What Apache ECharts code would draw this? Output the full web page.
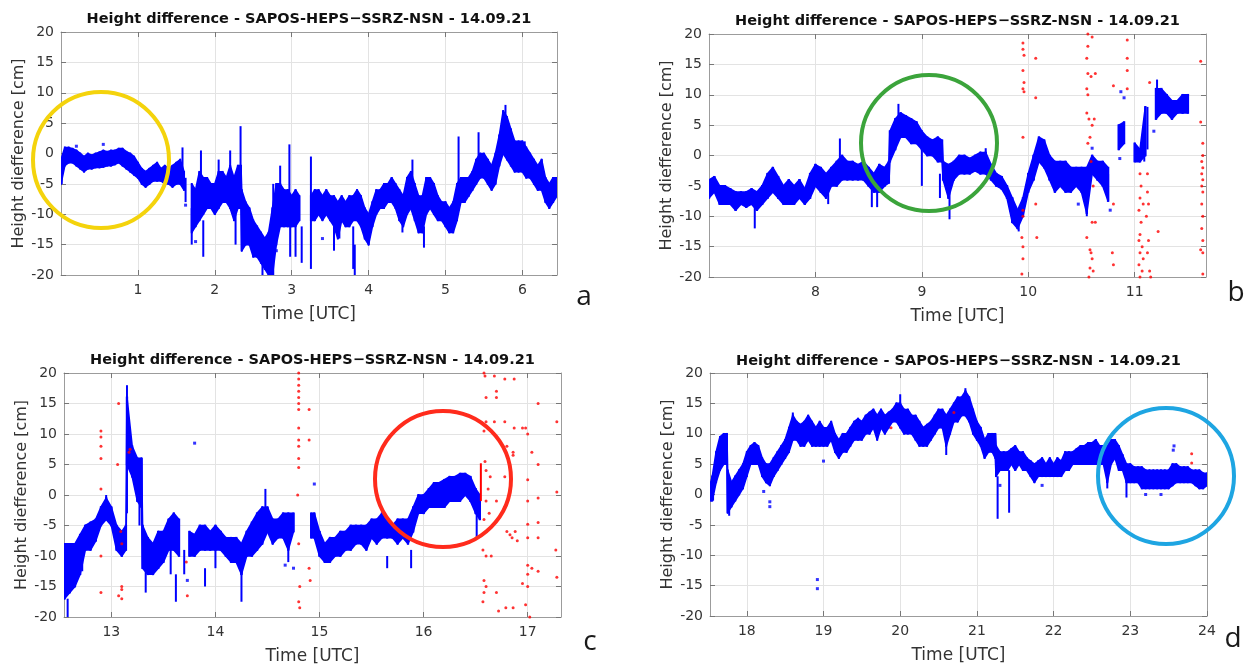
<!DOCTYPE html>
<html><head><meta charset="utf-8">
<script src="https://cdn.jsdelivr.net/npm/echarts@6/dist/echarts.min.js"></script>
<style>html,body{margin:0;padding:0;background:#fff}#c{width:1250px;height:668px}</style>
</head><body><div id="c"></div><script>
// ---------------- DATA ----------------
const TITLE = 'Height difference - SAPOS-HEPS\u2212SSRZ-NSN - 14.09.21';
const X_NAME = 'Time [UTC]';
const Y_NAME = 'Height diefference [cm]';
const panelLetters = ['a', 'b', 'c', 'd'];
const xRanges = [[0, 6.45], [7, 11.67], [12.545, 17.32], [17.52, 24]];
const xTicks = [[1, 2, 3, 4, 5, 6], [8, 9, 10, 11], [13, 14, 15, 16, 17], [18, 19, 20, 21, 22, 23, 24]];
const yTicks = [-20, -15, -10, -5, 0, 5, 10, 15, 20];
const BAND_STEP = 0.05; // hours between band samples

// band samples: [time, lowest value, highest value] of the dense blue cloud
const bandA = [[0.00,-5,-1],[0.05,-2,1],[0.10,-1.5,1],[0.15,-1.5,0.8],[0.20,-2,0.5],[0.25,-2.5,0],[0.30,-3,-0.5],[0.35,-2.5,0],[0.40,-2.5,-0.3],[0.45,-2.3,0],[0.50,-2.3,0.2],[0.55,-2.2,0.5],[0.60,-2,0.3],[0.65,-2,0.5],[0.70,-1.8,0.5],[0.75,-1.5,0.8],[0.80,-2,0.8],[0.85,-2.5,0.3],[0.90,-3,0],[0.95,-3.5,-0.5],[1.00,-4,-1.5],[1.05,-5,-2.5],[1.10,-5.5,-3],[1.15,-5,-2.5],[1.20,-4.5,-2],[1.25,-4.5,-1.5],[1.30,-4.5,-2.5],[1.35,-5,-2],[1.40,-5,-2.5],[1.45,-5.5,-2],[1.50,-5,-1.5],[1.55,-5,-1],[1.60,-6,-3],[1.70,-13,-5],[1.75,-12,-6],[1.80,-11,-3],[1.85,-10,-4],[1.90,-9,-4],[1.95,-9,-5],[2.00,-10,-5],[2.05,-9,-3],[2.10,-8,-3],[2.15,-8,-4],[2.20,-9,-2],[2.25,-11,-4],[2.30,-9,-2],[2.34,-9,-2],[2.35,-16,-6],[2.40,-15,-8],[2.45,-15,-9],[2.50,-17,-11],[2.55,-17,-12],[2.60,-18,-13],[2.65,-19,-14],[2.70,-20,-13],[2.75,-20,-9],[2.80,-15,-5],[2.85,-12,-5],[2.90,-12,-6],[2.95,-12,-6],[3.00,-12,-7],[3.05,-12,-6],[3.10,-11,-7],[3.25,-11,-7],[3.30,-11,-6],[3.35,-10,-6],[3.40,-11,-7],[3.45,-10,-6],[3.50,-11,-7],[3.55,-12,-7],[3.60,-14,-8],[3.65,-11,-7],[3.70,-12,-8],[3.75,-12,-7],[3.80,-11,-7],[3.85,-11,-6],[3.90,-12,-7],[3.95,-14,-9],[4.00,-15,-10],[4.05,-12,-8],[4.10,-10,-6],[4.15,-9,-6],[4.20,-9,-5],[4.25,-8,-5],[4.30,-8,-4],[4.35,-9,-5],[4.40,-11,-6],[4.45,-12,-7],[4.50,-10,-4],[4.55,-9,-3],[4.60,-11,-5],[4.65,-13,-7],[4.70,-13,-7],[4.75,-10,-4],[4.80,-9,-4],[4.85,-10,-5],[4.90,-11,-7],[4.95,-11,-8],[5.00,-12,-8],[5.05,-13,-9],[5.10,-13,-8],[5.15,-11,-5],[5.20,-8,-4],[5.25,-8,-4],[5.30,-7,-4],[5.35,-6,-3],[5.40,-5,-1],[5.45,-4,0],[5.50,-4,0],[5.55,-5,-1],[5.60,-6,-2],[5.65,-5,0],[5.70,-2,3],[5.75,0,7],[5.80,-1,6],[5.85,-2,4],[5.90,-3,2],[5.95,-3,2],[6.00,-3,2],[6.05,-4,1],[6.10,-4,0],[6.15,-5,-1],[6.20,-6,-2],[6.25,-6,-1],[6.30,-8,-4],[6.35,-9,-5],[6.40,-8,-4],[6.45,-7,-4]];
const bandB = [[7.00,-7,-4],[7.05,-6,-3.5],[7.10,-8,-5],[7.15,-8,-5],[7.20,-8,-5.5],[7.25,-9,-6],[7.30,-8,-6],[7.35,-8.5,-6],[7.40,-8,-5.5],[7.45,-9,-6],[7.50,-8,-5],[7.55,-7,-3],[7.60,-6,-2],[7.65,-7,-3.5],[7.70,-8,-5],[7.75,-8,-4],[7.80,-8,-5],[7.85,-7,-4],[7.90,-8,-5.5],[7.95,-7,-3],[8.00,-5,-1.5],[8.05,-6,-2],[8.10,-7,-3],[8.15,-5,-2],[8.20,-5,-1],[8.25,-4,0],[8.30,-4,-1],[8.35,-4,-1],[8.40,-4,-1.5],[8.45,-4,-1],[8.50,-5,-2],[8.55,-6,-3],[8.60,-6,-1.5],[8.65,-5,-2],[8.69,-4.5,-1],[8.70,-1,4],[8.75,1,6],[8.80,3,7],[8.85,3,6.5],[8.90,2,6],[8.95,2,5.5],[9.00,1,4],[9.05,0,3],[9.10,0,2.5],[9.15,-1,3],[9.19,-1,2.5],[9.20,-4,-1],[9.25,-7,-1.5],[9.30,-4,-1],[9.35,-3,0],[9.40,-3,0],[9.45,-3,-0.5],[9.50,-2.5,0],[9.55,-3,0.5],[9.60,-3,0.5],[9.65,-4,-1.5],[9.70,-5,-3],[9.75,-5.5,-3.5],[9.80,-7,-5],[9.85,-11,-7],[9.90,-12,-9],[9.95,-10,-7],[10.00,-6,-3],[10.05,-4,0],[10.10,-1,3],[10.15,-2,2.5],[10.20,-4,0],[10.25,-6,-1],[10.30,-5,-1],[10.35,-6,-1],[10.40,-6,-2],[10.45,-5,-2],[10.50,-6,-2],[10.55,-9.5,-2],[10.60,-3,0],[10.65,-4,-1],[10.70,-5,-1],[10.75,-7.5,-2],[10.85,1,5],[10.90,2,5.5],[11.00,-1,2],[11.05,-1,1],[11.10,0,8],[11.20,6,11],[11.25,7,11],[11.30,7,10],[11.35,6,9],[11.40,7,9],[11.45,7,10],[11.50,7,10]];
const bandC = [[12.55,-17,-8],[12.60,-16,-8],[12.65,-15,-8],[12.70,-13,-6.5],[12.75,-9,-5],[12.80,-9,-4.5],[12.85,-7.5,-4],[12.90,-5,-2],[12.95,-4,-0.5],[13.00,-5,-2],[13.05,-9,-5],[13.10,-10,-6],[13.14,-9,-5],[13.15,5,16],[13.20,3,8],[13.25,-1,6],[13.29,-2,6],[13.30,-12,-5],[13.35,-13,-7],[13.40,-13,-8],[13.45,-12,-6],[13.50,-11,-6],[13.55,-9,-4],[13.60,-9,-3],[13.65,-10,-4],[13.75,-10,-6],[13.80,-10,-6.5],[13.85,-9,-5],[13.90,-9,-5],[13.95,-9,-6],[14.00,-9,-5],[14.05,-9,-6],[14.10,-10,-7],[14.15,-11,-7],[14.20,-11,-7],[14.25,-13,-8],[14.30,-10,-6],[14.35,-10,-4.5],[14.40,-9,-3],[14.45,-8,-2],[14.50,-6,-2],[14.55,-8,-4],[14.60,-7,-4],[14.65,-7,-3],[14.70,-9,-3],[14.75,-6,-3],[14.92,-7,-3],[14.95,-7,-3],[15.00,-10,-6],[15.05,-11,-8],[15.10,-11,-7],[15.15,-10,-7],[15.20,-10,-6],[15.25,-9,-6],[15.30,-9,-5],[15.35,-8,-5],[15.40,-8,-5],[15.45,-9,-5],[15.50,-7,-4],[15.55,-8,-4],[15.60,-7,-3],[15.65,-7,-4],[15.70,-7,-5],[15.75,-8,-4],[15.80,-7,-4],[15.85,-8,-4],[15.90,-6,-2],[15.95,-3,0],[16.00,-3,0],[16.05,-2,1],[16.10,-2,2],[16.15,-2,2],[16.20,-2,2.5],[16.25,-1,3],[16.30,-1,3],[16.35,-1,3.5],[16.40,0,3.5],[16.45,-1,3],[16.50,-3,1],[16.54,-4,0]];
const bandD = [[17.53,-1,2],[17.55,-1,3],[17.60,2,7],[17.65,4,9.5],[17.70,5,10],[17.74,5,10],[17.75,-3,4],[17.80,-2,2],[17.85,-1,3],[17.90,0,4],[17.95,1,5],[18.00,3,7],[18.05,5,8],[18.10,5,8.5],[18.15,5,8],[18.20,3,6],[18.25,2,5],[18.30,1.5,5],[18.35,3,6],[18.40,4,7],[18.45,5,8],[18.50,6,9],[18.55,7,11],[18.60,9,13],[18.65,9,12],[18.70,8,11.5],[18.75,8,12],[18.80,9,13],[18.85,8,12],[18.90,8,11],[18.95,8,12],[19.00,8,11],[19.05,8,11],[19.10,9,12],[19.15,7,10],[19.20,6,9],[19.25,7,10],[19.30,7,10],[19.35,8,11],[19.40,9,12],[19.45,9,12.5],[19.50,9,12],[19.55,10,13],[19.60,10,13.5],[19.65,11,14],[19.70,9,13],[19.75,11,14],[19.80,10,13],[19.85,11,13.5],[19.90,12,14],[19.95,12,15],[20.00,11,15],[20.05,10,14],[20.10,10,14],[20.15,10,13],[20.20,9,13],[20.25,8,12],[20.30,8,11],[20.35,8,11.5],[20.40,9,12],[20.45,10,13],[20.50,11,14],[20.55,11,14],[20.60,8,13],[20.65,10,14],[20.70,12,15],[20.75,12,16],[20.80,13,16],[20.85,13,17],[20.90,12,16],[20.95,10,14],[21.00,9,12],[21.05,8,11],[21.10,6,9],[21.15,7,10],[21.20,7,10],[21.24,6,10],[21.25,3,8],[21.30,4,7],[21.35,4,7],[21.40,4,7],[21.45,5,7.5],[21.50,4,8],[21.55,5,7],[21.60,4,7],[21.65,4,6],[21.70,3,5.5],[21.75,2,5],[21.80,3,5.5],[21.85,3,6],[21.90,3,5],[21.95,3,6],[22.00,3,5],[22.05,3,6],[22.10,3,5.5],[22.15,4,7],[22.20,4,7],[22.25,5,7],[22.30,5,7.5],[22.35,5,8],[22.40,5,8],[22.45,5,8.5],[22.50,5,8.5],[22.55,5,9],[22.60,5,8],[22.65,5,8],[22.70,2,8],[22.75,5,9],[22.80,6,9],[22.85,4,8],[22.90,4,6.5],[22.95,2,5],[23.00,2,5],[23.05,2,4.5],[23.10,2,4.5],[23.15,1,4.5],[23.20,1,4],[23.25,1,4],[23.30,1,4],[23.35,1,4],[23.40,1,4],[23.45,1,4],[23.50,1,4],[23.55,1.5,5],[23.60,2,5],[23.65,2,4.5],[23.70,2,4.5],[23.75,2,4.5],[23.80,2,4],[23.85,1.5,4],[23.90,1,4],[23.95,1,3.5],[24.00,1.5,3.5]];

// narrow vertical blue streaks: [time, low, high]
const streakA = [[0.01,-5,-1],[1.58,-3,1],[1.62,-8,-4],[1.70,-15,-9],[1.82,-6,0.5],[1.85,-17,-11],[2.05,-5,-1],[2.20,-4,0.5],[2.27,-15,-10],[2.335,-3,4.5],[2.62,-20,-17],[2.76,-20,-5],[2.85,-6,-2],[2.97,-8,1.5],[2.98,-17,-12],[3.05,-17,-12],[3.13,-18,-12],[3.25,-19,-0.5],[3.55,-16,-12],[3.62,-14,-10],[3.80,-19,-12],[3.82,-20,-15],[4.44,-13,-11],[4.57,-4,-1],[4.72,-15.5,-12],[5.17,-5,2.8],[5.43,-2,3.5],[5.78,6,8],[6.03,-1,2]];
const streakB = [[7.43,-12,-7],[8.12,-8,-5],[8.23,-1,2.8],[8.53,-8.5,-5],[8.58,-8.5,-6],[8.78,5,8.5],[9.00,-5,1],[9.17,-7,-3],[9.26,-10.5,-6],[9.60,-2,1.2],[9.91,-12.5,-9],[10.55,-10,-5],[10.75,-7.5,-3],[11.09,-1,5],[11.12,1,8],[11.21,10,12.5]];
const streakC = [[12.58,-20,-17],[12.72,-12.5,-10],[12.95,-1,0],[13.15,-3,18],[13.27,-5,6],[13.33,-16,-12],[13.57,-13,-9],[13.62,-17.5,-13],[13.70,-13,-9],[13.90,-15,-12],[14.00,-12,-9],[14.25,-17.5,-12],[14.48,-2,1],[14.70,-11,-8],[15.65,-12,-10],[15.88,-12,-9],[16.51,-7,-3]];
const streakD = [[17.56,-1,1],[17.77,-3.5,-1],[18.60,12,13.5],[20.00,13,16.5],[20.60,6.5,9],[20.85,15,17.5],[21.27,-4,3],[21.42,-3,4],[22.70,1,5],[22.95,-0.5,3]];

// isolated blue points: [time, value]
const dotsA = [[0.55,1.5],[0.20,1.2],[1.75,-14.5],[3.40,-14],[1.62,-8.5],[2.80,-16]];
const dotsB = [[10.87,10.5],[10.90,9.5],[10.77,-9],[10.60,1.2],[10.47,-8],[11.18,4],[10.86,-0.5]];
const dotsC = [[13.80,8.5],[14.95,1.8],[14.67,-11.5],[14.75,-12],[13.73,-14]];
const dotsD = [[18.92,-14],[18.92,-15.5],[18.22,0.5],[18.30,-1.2],[18.30,-2],[19.00,5.5],[23.57,8],[23.56,7.3],[21.85,1.5],[23.20,0],[23.40,0],[21.30,1.5]];

// red (rejected) points: [time, value]
const redA = [];
const redB = [[9.95,18.5],[9.95,17.5],[9.96,16.5],[9.95,14],[9.96,12],[9.95,11],[9.96,10.5],[9.95,3],[9.95,-9],[9.95,-10],[9.94,-13.5],[9.95,-15],[9.95,-17],[9.94,-19.5],[10.07,16],[10.07,9.5],[10.08,-13.5],[10.07,-8],[10.56,20],[10.56,18],[10.55,16],[10.56,13.5],[10.59,13],[10.55,11],[10.56,10],[10.55,7],[10.57,6],[10.60,5],[10.58,3],[10.56,2],[10.59,-1],[10.61,-5],[10.60,-11],[10.55,-13.5],[10.58,-15.5],[10.59,-16],[10.60,-17],[10.58,-18.5],[10.57,-20],[10.60,19.5],[10.63,13.5],[10.62,6],[10.63,-11],[10.61,-19],[10.80,11.5],[10.80,-8],[10.79,-16],[10.80,-18],[10.93,19],[10.93,16],[10.93,14],[10.93,11],[11.05,-3],[11.06,-5],[11.05,-7],[11.08,-8],[11.04,-9],[11.06,-11],[11.05,-13],[11.04,-14],[11.07,-15],[11.05,-16],[11.08,-17],[11.04,-18],[11.07,-19],[11.05,-20],[11.12,-3],[11.12,-6],[11.13,-8],[11.11,-10],[11.13,-14],[11.12,-16],[11.14,-19],[11.15,-20],[11.14,12],[11.22,-12.5],[11.62,15.5],[11.62,5.5],[11.64,2],[11.64,0],[11.63,-1],[11.64,-2],[11.63,-3],[11.64,-4],[11.63,-5],[11.64,-6],[11.63,-8],[11.64,-10],[11.63,-12],[11.64,-14],[11.62,-15.5],[11.64,-16],[11.64,-19.5]];
const redC = [[12.90,10.5],[12.90,9.5],[12.90,8],[12.90,6],[12.90,1],[12.90,-10],[12.90,-16],[13.07,15],[13.06,5],[13.09,-6],[13.10,-8],[13.07,-16.5],[13.10,-17],[13.10,-15],[13.10,-15.5],[13.17,7],[13.18,7.5],[13.73,-16.5],[13.72,-11],[14.80,20],[14.80,19],[14.80,18],[14.80,17],[14.80,16],[14.80,15],[14.80,14],[14.80,11],[14.80,9],[14.80,8],[14.80,6],[14.80,4.5],[14.79,0],[14.80,-8],[14.81,-15],[14.80,-17.5],[14.81,-18.5],[14.90,14],[14.90,9],[14.90,-12],[14.91,-14],[16.58,20],[16.59,19.5],[16.60,16],[16.60,12],[16.58,10.5],[16.59,5.5],[16.60,4],[16.64,3],[16.62,1],[16.60,-1],[16.63,-3],[16.58,-4],[16.60,-6],[16.57,-9],[16.60,-10],[16.58,-14],[16.60,-15],[16.58,-16],[16.57,-17.5],[16.68,19.5],[16.70,17],[16.70,16],[16.68,12],[16.65,-10],[16.70,-16],[16.70,-1],[16.72,-19],[16.78,19],[16.78,12],[16.80,8],[16.78,3],[16.78,-2],[16.80,-6],[16.79,-18.5],[16.83,-6.5],[16.87,19],[16.87,11],[16.86,7],[16.86,6.5],[16.88,-6],[16.85,-7],[16.90,-7.5],[16.86,-18.5],[16.98,11],[17.00,10],[17.00,2.5],[17.00,-1],[17.00,-4.8],[17.00,-7],[17.00,-11.5],[17.00,-13],[17.00,-15],[16.98,-18],[17.02,-20],[17.04,7],[17.04,-12],[17.10,15],[17.10,5],[17.10,-0.5],[17.10,-4.5],[17.10,-7],[17.10,-12.5],[17.28,12],[17.28,0.5],[17.27,-9],[17.28,-13.5],[16.95,11],[16.95,-14.5]];
const redD = [[23.80,6.7],[23.80,5.2],[20.70,13.5],[19.88,11]];
// red streak (dense rejected run): [time, low, high]
const redStreakC = [[16.55,-1,5.2]];

const bands = [bandA, bandB, bandC, bandD];
const streaks = [streakA, streakB, streakC, streakD];
const dots = [dotsA, dotsB, dotsC, dotsD];
const reds = [redA, redB, redC, redD];
const redStreaks = [[], [], redStreakC, []];

// ---------------- LAYOUT / STYLE ----------------
const grids = [
  {left: 61, top: 32, width: 496, height: 243},
  {left: 709, top: 34, width: 497, height: 243},
  {left: 64, top: 373, width: 497, height: 244},
  {left: 710, top: 373, width: 497, height: 243}
];
const titleTops = [12, 14, 353, 354];
const letterPos = [[584, 283], [1236, 279], [590, 628], [1233, 625]];
const circles = [
  {cx: 101, cy: 160, color: '#f4d30c'},
  {cx: 929, cy: 143, color: '#3ba43b'},
  {cx: 443, cy: 479, color: '#ff2b1c'},
  {cx: 1166, cy: 476, color: '#1ea5e2'}
];
const BLUE = '#0000ff', RED = '#ff0000';
const FONT = 'DejaVu Sans';
const TXT = '#333333';
const AXC = '#9c9c9c';

// filled band between consecutive samples (polygon), using the axis scales
function bandRender(color) {
  return function (params, api) {
    const i = params.dataIndexInside;
    const t = api.value(0), lo = api.value(1), hi = api.value(2);
    const children = [];
    const a1 = api.coord([t, hi]), a2 = api.coord([t, lo]);
    if (i + 1 < params.dataInsideLength) {
      const t2 = api.value(0, i + 1);
      if (t2 - t <= BAND_STEP * 1.25) {
        const b1 = api.coord([t2, api.value(2, i + 1)]);
        const b2 = api.coord([t2, api.value(1, i + 1)]);
        children.push({type: 'polygon', shape: {points: [[a1[0], a1[1]], [b1[0], b1[1]], [b2[0], b2[1]], [a2[0], a2[1]]]},
          style: {fill: color, stroke: color, lineWidth: 1.6, lineJoin: 'round'}});
      }
    }
    const w = Math.max(api.size([BAND_STEP * 0.45, 0])[0], 2);
    children.push({type: 'rect', shape: {x: a1[0] - w / 2, y: a1[1] - 0.8, width: w, height: Math.max(a2[1] - a1[1], 1.5) + 1.6},
      style: {fill: color}});
    return {type: 'group', children: children};
  };
}
function streakRender(color, px) {
  return function (params, api) {
    const t = api.value(0), lo = api.value(1), hi = api.value(2);
    const p1 = api.coord([t, hi]);
    const p2 = api.coord([t, lo]);
    return {type: 'rect', shape: {x: p1[0] - px / 2, y: p1[1], width: px, height: Math.max(p2[1] - p1[1], 1.5)},
      style: {fill: color}};
  };
}

const xAxes = [], yAxes = [], series = [], titles = [], graphics = [];
grids.forEach((g, i) => {
  const common = {
    type: 'value', gridIndex: i, min: xRanges[i][0], max: xRanges[i][1],
    axisLine: {show: true, onZero: false, lineStyle: {color: AXC, width: 1}},
  };
  xAxes.push(Object.assign({}, common, {
    position: 'bottom',
    name: X_NAME, nameLocation: 'middle', nameGap: 31,
    nameTextStyle: {fontFamily: FONT, fontSize: 17, color: TXT},
    axisTick: {show: true, inside: true, length: 5, lineStyle: {color: '#777'}, customValues: xTicks[i]},
    axisLabel: {show: true, margin: 8, fontFamily: FONT, fontSize: 14, color: TXT, customValues: xTicks[i]},
    splitLine: {show: true, lineStyle: {color: '#e3e3e3', width: 1}}
  }));
  xAxes.push(Object.assign({}, common, {
    position: 'top',
    axisTick: {show: true, inside: true, length: 5, lineStyle: {color: '#777'}, customValues: xTicks[i]},
    axisLabel: {show: false, customValues: xTicks[i]},
    splitLine: {show: false}
  }));
  const ycommon = {
    type: 'value', gridIndex: i, min: yTicks[0], max: yTicks[yTicks.length - 1], interval: 5,
    axisLine: {show: true, onZero: false, lineStyle: {color: AXC, width: 1}},
    axisTick: {show: true, inside: true, length: 5, lineStyle: {color: '#777'}}
  };
  yAxes.push(Object.assign({}, ycommon, {
    position: 'left',
    name: Y_NAME, nameLocation: 'middle', nameGap: 34, nameRotate: 90,
    nameTextStyle: {fontFamily: FONT, fontSize: 16, color: TXT},
    axisLabel: {show: true, margin: 7, fontFamily: FONT, fontSize: 14, color: TXT},
    splitLine: {show: true, lineStyle: {color: '#e3e3e3', width: 1}}
  }));
  yAxes.push(Object.assign({}, ycommon, {
    position: 'right',
    axisLabel: {show: false},
    splitLine: {show: false}
  }));

  const axisRef = {xAxisIndex: 2 * i, yAxisIndex: 2 * i};
  series.push(Object.assign({type: 'custom', renderItem: bandRender(BLUE), data: bands[i], clip: true, z: 3,
    encode: {x: 0, y: [1, 2]}, silent: true}, axisRef));
  series.push(Object.assign({type: 'custom', renderItem: streakRender(BLUE, 2), data: streaks[i], clip: true, z: 3,
    encode: {x: 0, y: [1, 2]}, silent: true}, axisRef));
  series.push(Object.assign({type: 'scatter', data: dots[i], symbol: 'rect', symbolSize: 3,
    itemStyle: {color: BLUE}, z: 3, silent: true, clip: true}, axisRef));
  series.push(Object.assign({type: 'custom', renderItem: streakRender(RED, 2), data: redStreaks[i], clip: true, z: 4,
    encode: {x: 0, y: [1, 2]}, silent: true}, axisRef));
  series.push(Object.assign({type: 'scatter', data: reds[i], symbol: 'circle', symbolSize: 3,
    itemStyle: {color: RED}, z: 4, silent: true, clip: true}, axisRef));

  titles.push({
    text: TITLE, left: g.left + g.width / 2, top: titleTops[i], textAlign: 'center', padding: 0,
    textStyle: {fontFamily: FONT, fontSize: 14.5, fontWeight: 'bold', color: '#111'}
  });
  graphics.push({
    type: 'text', x: letterPos[i][0], y: letterPos[i][1], z: 10,
    style: {text: panelLetters[i], font: '28px "Open Sans"', fill: '#1a1a1a', align: 'center', verticalAlign: 'top'}
  });
  const c = circles[i];
  graphics.push({
    type: 'ellipse', z: 20, silent: true,
    shape: {cx: c.cx, cy: c.cy, rx: 68, ry: 68},
    style: {fill: 'none', stroke: c.color, lineWidth: 4}
  });
});

const chart = echarts.init(document.getElementById('c'), null, {renderer: 'canvas'});
chart.setOption({
  backgroundColor: '#ffffff',
  animation: false,
  title: titles,
  grid: grids.map(g => Object.assign({containLabel: false, show: false}, g)),
  xAxis: xAxes,
  yAxis: yAxes,
  series: series,
  graphic: graphics
});
</script></body></html>
